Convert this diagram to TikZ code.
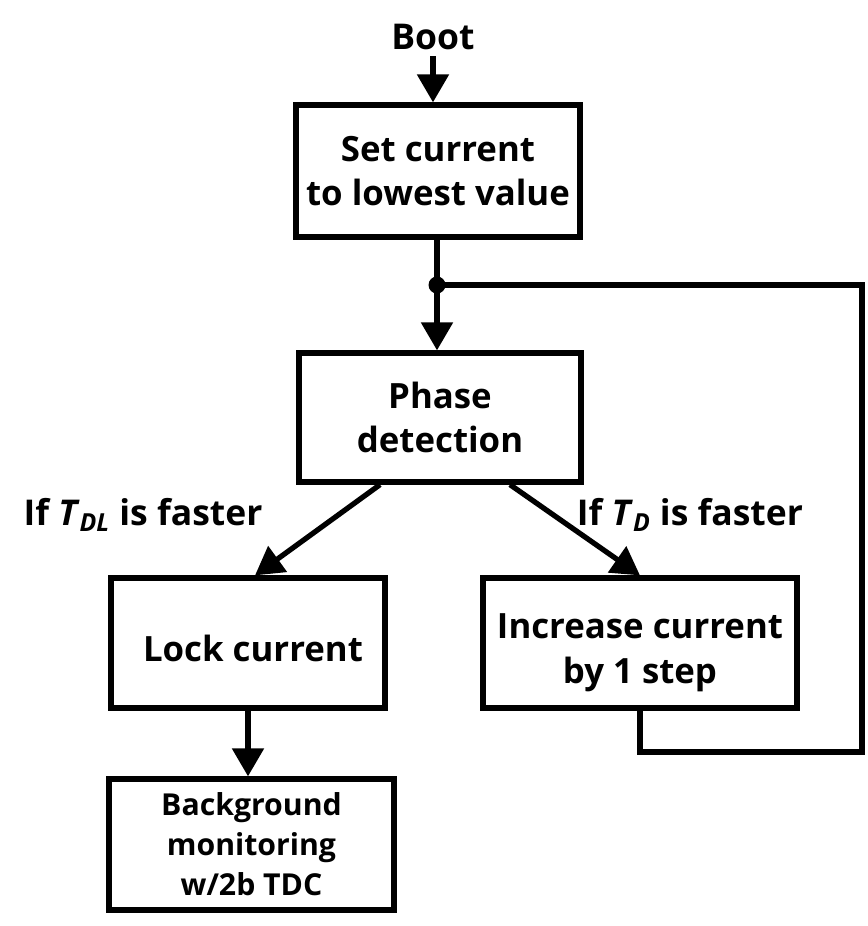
\documentclass[tikz,border=0pt]{standalone}
\usepackage{fontspec}
\setmainfont{Open Sans}
\usetikzlibrary{arrows.meta}

\tikzset{
  stepbox/.style={draw, line width=3pt, align=center, font=\fontsize{19.8}{25.5}\selectfont\bfseries},
  flow/.style={line width=3pt, -{Triangle[width=0.62cm,length=0.56cm]}},
  wire/.style={line width=3pt},
  cond/.style={font=\fontsize{20.2}{25}\selectfont\bfseries}
}

\begin{document}
\begin{tikzpicture}
            \useasboundingbox (0,0) rectangle (17.36,-18.52);

            % Start
            \node[cond] (boot) at (8.66,-0.74) {Boot};

            % Boxes
            \node[stepbox, minimum width=5.68cm, minimum height=2.64cm] (set) at (8.76,-3.42) {Set current\\to lowest value};
            \node[stepbox, minimum width=5.64cm, minimum height=2.58cm] (phase) at (8.8,-8.35) {Phase\\detection};
            \node[stepbox, minimum width=5.48cm, minimum height=2.6cm] (lock) at (4.96,-12.86) {\hspace{0.2cm}\rule{0pt}{0.74cm}Lock current};
            \node[stepbox, minimum width=6.28cm, minimum height=2.6cm] (inc) at (12.8,-12.86) {\rule{0pt}{0.9cm}Increase current\\by 1 step};
            \node[stepbox, minimum width=5.7cm, minimum height=2.62cm, font=\fontsize{17.2}{22.7}\selectfont\bfseries] (bg) at (5.03,-16.89) {Background\\monitoring\\w/2b TDC};

            % Conditions
            \node[cond] (slow) at (2.86,-10.3) {If \textit{T}\textsubscript{\textit{DL}} is faster};
            \node[cond] (fast) at (13.8,-10.3) {If \textit{T}\textsubscript{\textit{D}} is faster};

            % Junction of the loop
            \coordinate (junc) at (8.74,-5.7);
            \coordinate (corner) at (17.24,-15.04);

            % Arrows
            \draw[flow] (boot.south -| 8.66,0) -- (8.66,0 |- set.north);
            \draw[wire] (set.south -| junc) -- (junc);
            \draw[flow] (junc) -- (junc |- phase.north);
            \draw[flow] ([xshift=-1.2cm]phase.south) -- ([xshift=0.14cm]lock.north);
            \draw[flow] ([xshift=1.4cm]phase.south) -- (inc.north);
            \draw[flow] (lock.south) -- (lock.south |- bg.north);

            % Loop back
            \draw[wire] (inc.south) |- (corner) |- (junc);
            \fill (junc) circle (0.17);
        \end{tikzpicture}
\end{document}
